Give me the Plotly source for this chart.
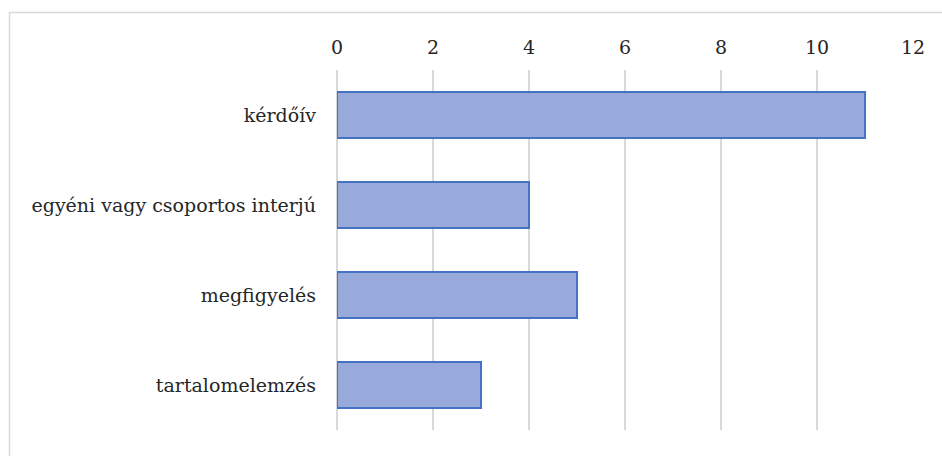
import plotly.graph_objects as go

categories = ["kérdőív", "egyéni vagy csoportos interjú", "megfigyelés", "tartalomelemzés"]
values = [11, 4, 5, 3]
tick_vals = [0, 2, 4, 6, 8, 10, 12]

W, H = 942, 456
ml, mr, mt, mb = 337, 29, 70, 26
pw = W - ml - mr
ph = H - mt - mb

fig = go.Figure(go.Bar(
    y=categories, x=values, orientation="h", width=0.51,
    marker=dict(color="#98aadb", line=dict(color="#4472c4", width=2)),
))

font = dict(family="DejaVu Serif", size=19, color="#262626")

fig.update_layout(
    width=W, height=H,
    margin=dict(l=ml, r=mr, t=mt, b=mb, autoexpand=False),
    paper_bgcolor="white", plot_bgcolor="white",
    showlegend=False, font=font,
    xaxis=dict(side="top", range=[0, 12], tickvals=tick_vals, showgrid=True,
               gridcolor="#d9d9d9", gridwidth=1.5, zeroline=True, zerolinecolor="#d9d9d9",
               zerolinewidth=1.5, showline=False, ticklabelstandoff=11, tickfont=font),
    yaxis=dict(autorange="reversed", showgrid=False, showline=False, zeroline=False,
               ticklabelstandoff=20, tickfont=font),
    shapes=[dict(type="rect", xref="paper", yref="paper",
                 x0=(9.5 - ml) / pw, x1=(W + 20 - ml) / pw,
                 y0=-(H + 20 - mt - ph) / ph, y1=1 + (mt - 12.5) / ph,
                 line=dict(color="#d9d9d9", width=1.5), fillcolor="rgba(0,0,0,0)", layer="below")],
)

fig.write_html("out.html")
